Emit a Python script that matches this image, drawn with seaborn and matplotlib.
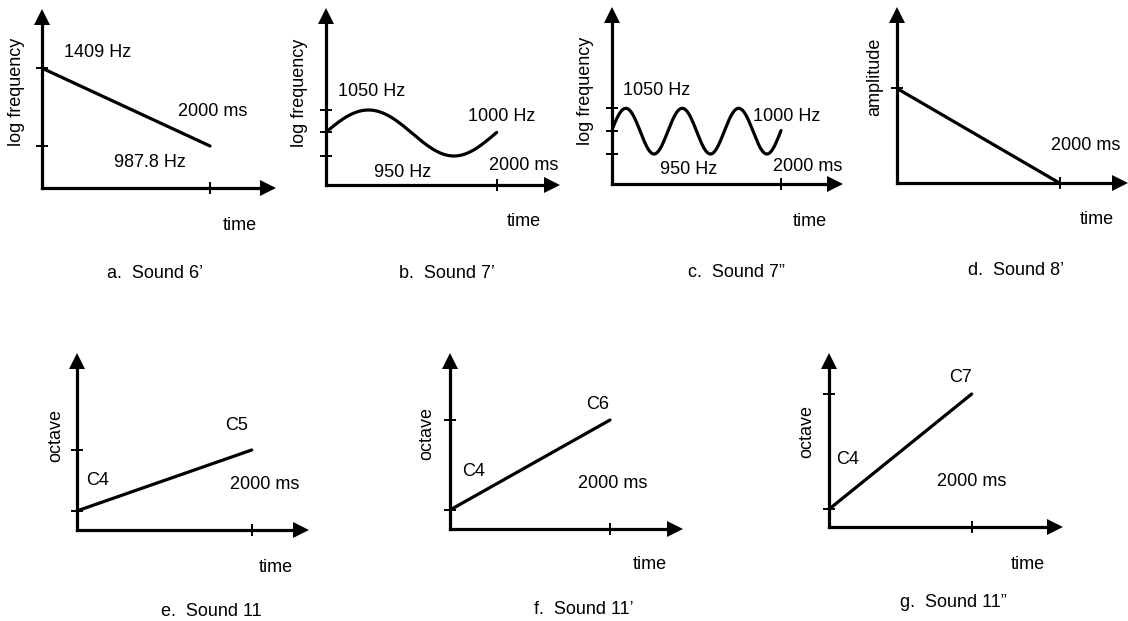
import numpy as np
import matplotlib
matplotlib.use("Agg")
import matplotlib.pyplot as plt
import seaborn as sns
from matplotlib.ticker import NullLocator

# ---------------- data ----------------
duration_ms = 2000
sweep_a_hz = [1409, 987.8]          # Sound 6'
vibrato_center_hz = 1000            # Sound 7' / 7''
vibrato_max_hz = 1050
vibrato_min_hz = 950
vibrato_cycles = [1, 3]             # 7' has one cycle, 7'' three
amplitude_d = [1, 0]                # Sound 8'
octave_start = 4                    # C4
octave_end = [5, 6, 7]              # C5, C6, C7
note_start = "C4"
note_end = ["C5", "C6", "C7"]
captions = ["a.  Sound 6\u2019", "b.  Sound 7\u2019", "c.  Sound 7\u201d", "d.  Sound 8\u2019",
            "e.  Sound 11", "f.  Sound 11\u2019", "g.  Sound 11\u201d"]
ylabels = ["log frequency", "log frequency", "log frequency", "amplitude",
           "octave", "octave", "octave"]
xlabel = "time"

# ---------------- style / layout ----------------
W, H = 1128, 621
sns.set_style("white")
plt.rcParams["font.family"] = ["Liberation Sans", "DejaVu Sans"]
plt.rcParams["text.color"] = "black"
FS = 13
ARROW = 16          # arrow head size in px
LW = 2.3

fig = plt.figure(figsize=(W / 100, H / 100), dpi=100)

# pixel geometry of each panel
geoms = [
    dict(ox=42.3, oy=187.7, tip=275.7, top=9.5, xt=210.0, ypx=(68.3, 146.0)),
    dict(ox=325.7, oy=185.0, tip=560.0, top=8.3, xt=496.7, ypx=(110.0, 156.0)),
    dict(ox=611.7, oy=184.0, tip=843.0, top=7.0, xt=781.0, ypx=(108.3, 154.0)),
    dict(ox=896.7, oy=183.3, tip=1128.0, top=7.0, xt=1060.0, ypx=(88.3, 183.3)),
    dict(ox=76.7, oy=530.0, tip=309.0, top=353.0, xt=251.7, ypx=(450.0, 511.0)),
    dict(ox=450.0, oy=529.0, tip=683.0, top=353.0, xt=610.0, ypx=(420.0, 510.0)),
    dict(ox=829.3, oy=527.3, tip=1062.7, top=353.0, xt=971.7, ypx=(394.0, 509.0)),
]


def make_axes(g, yvals, log):
    left, right = g["ox"], g["tip"] - ARROW / 2
    bottom, top = g["oy"], g["top"] + ARROW / 2
    ax = fig.add_axes([left / W, 1 - bottom / H, (right - left) / W, (bottom - top) / H])
    px_per_ms = (g["xt"] - g["ox"]) / duration_ms
    ax.set_xlim(0, (right - left) / px_per_ms)
    f = np.log10 if log else (lambda v: v)
    finv = (lambda u: 10 ** u) if log else (lambda u: u)
    v0, v1 = yvals
    p0, p1 = g["ypx"]
    slope = (p1 - p0) / (f(v1) - f(v0))
    ylo = finv(f(v0) + (bottom - p0) / slope)
    yhi = finv(f(v0) + (top - p0) / slope)
    if log:
        ax.set_yscale("log")
    return ax, (ylo, yhi)


def finish(ax, ylim, yticks):
    ax.set_ylim(*ylim)
    ax.set_xticks([duration_ms])
    ax.set_yticks(yticks)
    ax.yaxis.set_minor_locator(NullLocator())
    ax.xaxis.set_minor_locator(NullLocator())
    ax.tick_params(labelbottom=False, labelleft=False, direction="inout",
                   length=8, width=1.4, color="black", bottom=True, left=True)
    ax.set_xlabel("")
    ax.set_ylabel("")
    for s in ["top", "right"]:
        ax.spines[s].set_visible(False)
    for s in ["left", "bottom"]:
        ax.spines[s].set_linewidth(LW)
        ax.spines[s].set_color("black")
    ax.set_facecolor("none")
    ms = ARROW * 72 / 100
    ax.plot(1, 0, ">", color="black", ms=ms, transform=ax.transAxes, clip_on=False, mew=0)
    ax.plot(0, 1, "^", color="black", ms=ms, transform=ax.transAxes, clip_on=False, mew=0)


def txt(x, yc, s, **kw):
    kw.setdefault("ha", "center")
    fig.text(x / W, 1 - (yc + 6.4) / H, s, fontsize=FS, va="baseline", color="black", **kw)


def vlabel(x, yc, s):
    fig.text(x / W, 1 - yc / H, s, fontsize=FS, rotation=90, ha="center", va="center",
             color="black")


t_line = [0, duration_ms]

# a. Sound 6'
ax, yl = make_axes(geoms[0], sweep_a_hz, True)
sns.lineplot(x=t_line, y=sweep_a_hz, ax=ax, color="black", lw=LW)
finish(ax, yl, sweep_a_hz)

# b / c. Sound 7', 7''
for i, cyc in zip([1, 2], vibrato_cycles):
    ax, yl = make_axes(geoms[i], [vibrato_max_hz, vibrato_min_hz], True)
    t = np.linspace(0, duration_ms, 600)
    depth = (vibrato_max_hz - vibrato_min_hz) / 2
    fr = vibrato_center_hz + depth * np.sin(2 * np.pi * cyc * t / duration_ms)
    sns.lineplot(x=t, y=fr, ax=ax, color="black", lw=LW)
    finish(ax, yl, [vibrato_min_hz, vibrato_center_hz, vibrato_max_hz])

# d. Sound 8'
ax, yl = make_axes(geoms[3], amplitude_d, False)
sns.lineplot(x=t_line, y=amplitude_d, ax=ax, color="black", lw=LW)
finish(ax, yl, [amplitude_d[0]])

# e/f/g. Sound 11, 11', 11''
for k, oe in enumerate(octave_end):
    ax, yl = make_axes(geoms[4 + k], [oe, octave_start], False)
    sns.lineplot(x=t_line, y=[octave_start, oe], ax=ax, color="black", lw=LW)
    finish(ax, yl, [octave_start, oe])

ms_lbl = f"{duration_ms} ms"
hz = lambda v: f"{v:g} Hz"

# ---- annotations ----
# a
txt(97.5, 51, hz(sweep_a_hz[0]))
txt(213, 110, ms_lbl)
txt(150, 161, hz(sweep_a_hz[1]))
vlabel(17, 92, ylabels[0])
txt(240, 224, xlabel)
txt(155, 272, captions[0])
# b
txt(372, 90, hz(vibrato_max_hz))
txt(502, 115, hz(vibrato_center_hz))
txt(403, 171, hz(vibrato_min_hz))
txt(524, 164, ms_lbl)
vlabel(300, 93, ylabels[1])
txt(524, 220, xlabel)
txt(447, 272, captions[1])
# c
txt(657, 89, hz(vibrato_max_hz))
txt(787, 115, hz(vibrato_center_hz))
txt(689, 168, hz(vibrato_min_hz))
txt(808, 165, ms_lbl)
vlabel(586, 91, ylabels[2])
txt(810, 220, xlabel)
txt(736, 271, captions[2])
# d
txt(1086, 144, ms_lbl)
vlabel(875, 77, ylabels[3])
txt(1097, 218, xlabel)
txt(1016, 269, captions[3])
# e
txt(237, 424, note_end[0])
txt(98, 479, note_start)
txt(265, 483, ms_lbl)
vlabel(56, 435, ylabels[4])
txt(276, 566, xlabel)
txt(211, 610, captions[4])
# f
txt(598, 403, note_end[1])
txt(474, 470, note_start)
txt(613, 482, ms_lbl)
vlabel(427, 434, ylabels[5])
txt(650, 563, xlabel)
txt(584, 608, captions[5])
# g
txt(961, 376, note_end[2])
txt(848, 458, note_start)
txt(972, 480, ms_lbl)
vlabel(807, 432, ylabels[6])
txt(1028, 563, xlabel)
txt(953, 601, captions[6])

fig.savefig("out.png", dpi=100, facecolor="white")
